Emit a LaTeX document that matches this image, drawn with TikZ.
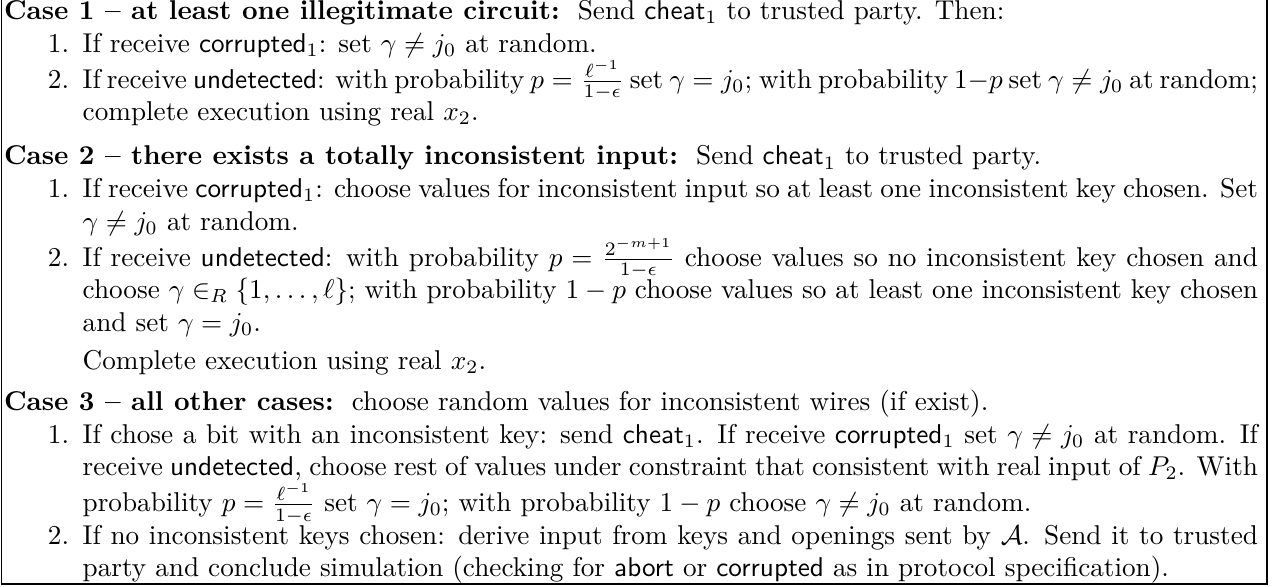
\documentclass[tikz,border=0pt]{standalone}
\usepackage{amsmath,amssymb}
\newcounter{stepno}
\newenvironment{stepslist}{\begin{list}{\arabic{stepno}.}{\usecounter{stepno}%
  \setlength{\leftmargin}{28.9pt}\setlength{\labelsep}{5pt}\setlength{\labelwidth}{23.9pt}%
  \setlength{\parsep}{2pt}\setlength{\itemsep}{-2pt}\setlength{\topsep}{0pt}%
  \setlength{\partopsep}{0pt}\setlength{\listparindent}{0pt}\setlength{\itemindent}{0pt}%
  \setlength{\rightmargin}{0pt}}}{\end{list}}
\newcommand{\msg}[1]{\textsf{#1}}
\newcommand{\casegap}[1]{\par\vspace{#1}}
\tikzset{panelbox/.style={anchor=base west, inner sep=0pt, outer sep=0pt},
  frameline/.style={line width=0.4pt, draw=black}}
\begin{document}
\begin{tikzpicture}[x=1pt,y=1pt]
\useasboundingbox (0,0) rectangle (468.75,-215.44);
\draw[frameline] (0.55,0) -- (0.55,-214.7) -- (465.8,-214.7) -- (465.8,0);
\node[panelbox] (panel) at (1.5,-7.2) {\begin{minipage}[t]{461pt}
\tolerance=9999 \hbadness=10000
\textbf{Case 1 -- at least one illegitimate circuit:}\ \ Send \msg{cheat}$_1$ to trusted party. Then:
\begin{stepslist}
\item If receive \msg{corrupted}$_1$: set $\gamma\neq j_0$ at random.
\item If receive \msg{undetected}: with probability $p=\frac{\ell^{-1}}{1-\epsilon}$ set $\gamma=j_0$; with probability $1-p$ set $\gamma\neq j_0$ at random;\linebreak complete execution using real $x_2$.
\end{stepslist}
\casegap{4.2pt}
\textbf{Case 2 -- there exists a totally inconsistent input:}\ \ Send \msg{cheat}$_1$ to trusted party.
\begin{stepslist}
\item If receive \msg{corrupted}$_1$: choose values for inconsistent input so at least one inconsistent key chosen. Set\linebreak $\gamma\neq j_0$ at random.
\item If receive \msg{undetected}: with probability $p=\frac{2^{-m+1}}{1-\epsilon}$ choose values so no inconsistent key chosen and\linebreak choose $\gamma\in_R\{1,\ldots,\ell\}$; with probability $1-p$ choose values so at least one inconsistent key chosen\linebreak and set $\gamma=j_0$.

Complete execution using real $x_2$.
\end{stepslist}
\casegap{3pt}
\textbf{Case 3 -- all other cases:}\ \ choose random values for inconsistent wires (if exist).
\begin{stepslist}
\item If chose a bit with an inconsistent key: send \msg{cheat}$_1$. If receive \msg{corrupted}$_1$ set $\gamma\neq j_0$ at random. If\linebreak receive \msg{undetected}, choose rest of values under constraint that consistent with real input of $P_2$. With\linebreak probability $p=\frac{\ell^{-1}}{1-\epsilon}$ set $\gamma=j_0$; with probability $1-p$ choose $\gamma\neq j_0$ at random.
\item If no inconsistent keys chosen: derive input from keys and openings sent by $\mathcal{A}$. Send it to trusted\linebreak party and conclude simulation (checking for \msg{abort} or \msg{corrupted} as in protocol specification).
\end{stepslist}
\end{minipage}};
\end{tikzpicture}
\end{document}
